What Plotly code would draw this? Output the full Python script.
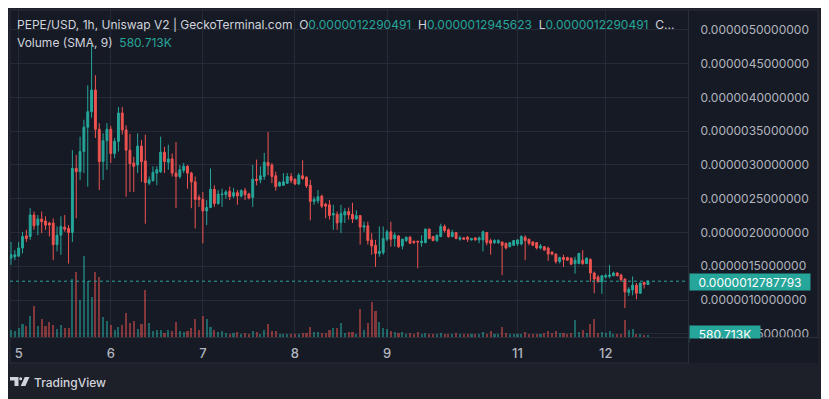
import plotly.graph_objects as go

# ---------------- data (prices in micro-USD, volume in thousands) ----------------
opens = [1.62,1.64,1.65,1.77,1.95,1.94,2.26,2.11,2.20,2.17,2.14,2.14,1.82,1.96,2.08,2.06,2.00,2.95,2.90,3.20,
         3.56,3.79,4.11,3.53,3.05,3.36,3.53,3.17,3.35,3.77,3.52,3.22,3.03,3.00,3.28,3.06,2.73,2.77,2.88,2.90,
         3.19,3.04,3.09,2.88,2.83,2.92,2.98,2.88,2.75,2.52,2.49,2.32,2.37,2.64,2.43,2.56,2.56,2.61,2.54,2.59,
         2.54,2.62,2.57,2.52,2.79,2.78,2.83,3.04,3.00,2.84,2.69,2.70,2.73,2.83,2.79,2.72,2.84,2.82,2.70,2.46,
         2.47,2.54,2.42,2.41,2.26,2.27,2.15,2.26,2.31,2.27,2.20,2.25,2.08,2.10,1.89,1.81,1.69,1.70,1.90,2.01,
         1.91,1.95,1.80,1.88,1.93,1.87,1.87,1.85,1.85,2.05,1.94,1.88,1.94,2.09,2.04,1.94,2.00,1.90,1.92,1.93,
         1.89,1.92,1.89,1.89,2.00,1.88,1.85,1.85,1.86,1.84,1.79,1.81,1.83,1.83,1.93,1.90,1.86,1.85,1.77,1.79,
         1.77,1.71,1.68,1.57,1.63,1.63,1.62,1.54,1.54,1.59,1.54,1.60,1.40,1.34,1.27,1.34,1.35,1.36,1.40,1.37,
         1.31,1.11,1.15,1.22,1.10,1.26,1.2290491]
highs = [1.86,1.74,1.86,2.01,2.04,2.36,2.31,2.26,2.31,2.24,2.16,2.21,2.09,2.24,2.26,2.11,3.22,3.15,3.42,3.67,
         4.18,4.78,4.33,3.62,3.47,3.62,3.58,3.40,3.86,3.86,3.59,3.46,3.12,3.47,3.37,3.45,2.83,2.98,2.98,3.42,
         3.27,3.30,3.17,3.34,3.00,3.03,3.00,2.90,2.83,2.56,2.60,2.48,2.95,2.70,2.63,2.65,2.63,2.68,2.66,2.63,
         2.64,2.66,2.59,3.00,3.08,2.98,3.18,3.49,3.03,2.90,2.76,2.88,2.88,2.88,2.80,2.88,3.07,2.83,2.78,2.53,
         2.63,2.56,2.44,2.48,2.41,2.31,2.41,2.36,2.37,2.44,2.33,2.26,2.16,2.16,1.99,1.89,2.09,2.09,2.04,2.16,
         2.00,1.96,1.91,1.94,1.95,1.88,1.88,1.96,2.06,2.06,1.95,1.97,2.13,2.12,2.06,2.04,2.01,1.95,1.93,1.95,
         1.92,1.93,1.94,2.03,2.01,1.91,1.90,1.90,1.86,1.85,1.86,1.89,1.90,1.96,1.96,1.91,1.87,1.86,1.83,1.80,
         1.79,1.72,1.69,1.64,1.67,1.64,1.63,1.64,1.70,1.74,1.63,1.62,1.42,1.37,1.37,1.39,1.52,1.42,1.41,1.39,
         1.32,1.19,1.35,1.25,1.26,1.27,1.2945623]
lows = [1.52,1.59,1.64,1.69,1.86,1.89,2.04,1.96,1.99,2.04,1.94,1.59,1.72,1.67,2.01,1.54,1.86,2.21,2.78,2.88,
        2.68,3.70,3.40,2.63,2.78,2.93,3.03,3.10,3.20,3.45,2.53,2.60,2.60,2.88,2.75,2.13,2.70,2.75,2.70,2.88,
        2.88,2.93,2.83,2.36,2.80,2.88,2.65,2.36,2.06,2.38,1.84,2.11,2.36,2.38,2.41,2.38,2.50,2.48,2.51,2.41,
        2.52,2.48,2.49,2.38,2.70,2.73,2.78,2.85,2.73,2.62,2.68,2.69,2.72,2.73,2.70,2.70,2.78,2.66,2.18,2.41,
        2.43,2.36,2.21,2.19,2.04,2.04,1.99,2.14,2.19,2.14,2.19,1.82,2.01,1.82,1.67,1.49,1.64,1.67,1.87,1.79,
        1.79,1.77,1.75,1.86,1.83,1.83,1.47,1.79,1.84,1.90,1.87,1.86,1.93,2.00,1.92,1.93,1.90,1.88,1.89,1.86,
        1.88,1.88,1.84,1.72,1.81,1.67,1.83,1.83,1.37,1.75,1.78,1.80,1.80,1.81,1.59,1.81,1.80,1.75,1.75,1.73,
        1.58,1.66,1.54,1.54,1.49,1.58,1.52,1.39,1.53,1.52,1.53,1.27,1.10,1.26,1.09,1.32,1.32,1.35,1.35,1.27,
        0.88,1.06,1.07,1.01,1.09,1.17,1.2290491]
closes = [1.67,1.67,1.77,1.94,1.91,2.26,2.10,2.20,2.16,2.11,2.11,1.82,1.96,2.09,2.05,2.00,2.95,2.90,3.20,3.56,
          3.79,4.11,3.53,3.05,3.36,3.53,3.17,3.35,3.77,3.52,3.22,3.02,2.98,3.28,3.05,2.74,2.78,2.89,2.93,3.19,
          3.05,3.09,2.88,2.83,2.93,2.98,2.88,2.75,2.49,2.49,2.32,2.37,2.64,2.43,2.57,2.57,2.60,2.53,2.59,2.54,
          2.62,2.56,2.51,2.79,2.77,2.84,3.04,2.99,2.83,2.68,2.74,2.75,2.83,2.77,2.72,2.85,2.80,2.69,2.46,2.49,
          2.53,2.39,2.39,2.25,2.28,2.14,2.28,2.31,2.26,2.20,2.25,2.08,2.10,1.88,1.80,1.69,1.72,1.91,2.01,1.90,
          1.96,1.79,1.90,1.93,1.84,1.85,1.86,1.87,2.05,1.91,1.88,1.96,2.09,2.03,1.94,2.00,1.91,1.92,1.90,1.90,
          1.91,1.89,1.92,2.01,1.85,1.84,1.88,1.88,1.81,1.77,1.85,1.88,1.89,1.94,1.88,1.84,1.81,1.77,1.80,1.74,
          1.68,1.68,1.57,1.63,1.60,1.59,1.53,1.59,1.69,1.54,1.62,1.40,1.31,1.27,1.36,1.36,1.37,1.40,1.36,1.30,
          1.12,1.16,1.22,1.10,1.25,1.23,1.2787793]
volumes = [560,480,720,1040,880,1680,2480,880,1440,880,1200,960,640,960,720,720,4640,5200,2960,6480,
           4480,3200,5200,4800,1600,1280,960,560,800,960,1920,1120,1280,640,1040,3760,1120,480,560,560,
           320,560,480,1200,480,400,480,720,1440,560,1680,1440,800,560,400,480,320,240,320,400,
           240,320,240,480,400,240,560,1040,480,480,240,240,240,240,240,240,320,320,800,400,
           400,320,320,560,720,720,1120,320,400,400,240,2240,560,1120,2800,2080,1200,720,640,480,
           400,320,400,240,320,240,400,240,320,240,240,240,320,240,240,240,320,240,240,240,
           240,240,240,400,240,480,240,240,800,320,240,240,240,240,400,240,240,240,240,320,
           480,320,480,320,320,240,320,1360,400,560,320,1040,1440,320,400,320,480,240,240,240,
           1360,560,640,240,240,160,160]
day_tick_pos = [2, 26, 50, 74, 98, 132, 155]
day_tick_labels = ["5", "6", "7", "8", "9", "11", "12"]
price_ticks = [0.5, 1.0, 1.5, 2.0, 2.5, 3.0, 3.5, 4.0, 4.5, 5.0]
volume_sma = "580.713K"
UNIT = 1e-6

# ---------------- styling ----------------
W, H = 829, 399
OFF = 8                                  # page body margin: figure is drawn 8px right/down
REF_PL, REF_PR, REF_PT, REF_PB = 10, 688, 10, 337   # plot area in window pixels
PL, PR, PT, PB = REF_PL - OFF, REF_PR - OFF, REF_PT - OFF, REF_PB - OFF
UP, DN = "#26a69a", "#ef5350"
BG_OUT, BG_CHART = "#1e2029", "#161a25"
GRID, BORDER = "#262a37", "#2a2e39"
TXT, TXT2 = "#d1d4dc", "#b2b5be"
FONT = "Inter, Roboto, sans-serif"

def px(x):  # window x -> paper
    return (x - OFF - PL) / (PR - PL)

def py(y):  # window y -> paper
    return (PB - (y - OFF)) / (PB - PT)

xs = list(range(len(opens)))
o = [v * UNIT for v in opens]
h = [v * UNIT for v in highs]
l = [v * UNIT for v in lows]
c = [v * UNIT for v in closes]
vol_colors = ["rgba(38,166,154,0.55)" if cc >= oo else "rgba(239,83,80,0.5)" for oo, cc in zip(opens, closes)]

fig = go.Figure()
fig.add_trace(go.Bar(x=xs, y=volumes, marker=dict(color=vol_colors, line=dict(width=0)),
                     width=0.55, yaxis="y2", hoverinfo="skip"))
fig.add_trace(go.Candlestick(
    x=xs, open=o, high=h, low=l, close=c,
    increasing=dict(line=dict(color=UP, width=1), fillcolor=UP),
    decreasing=dict(line=dict(color=DN, width=1), fillcolor=DN),
    whiskerwidth=0, hoverinfo="skip"))

span = 176.7
spacing = (PR - PL) / span
x0 = -(11 - REF_PL) / spacing
fig.update_layout(
    width=W, height=H, showlegend=False,
    paper_bgcolor=BG_OUT, plot_bgcolor=BG_CHART,
    margin=dict(l=PL, r=W - PR, t=PT, b=H - PB),
    font=dict(family=FONT, color=TXT2, size=12),
    bargap=0,
    xaxis=dict(range=[x0, x0 + span], rangeslider=dict(visible=False),
               tickmode="array", tickvals=day_tick_pos, ticktext=day_tick_labels,
               showgrid=True, gridcolor=GRID, gridwidth=1, zeroline=False, showline=False,
               ticks="outside", ticklen=4, tickcolor=BG_CHART,
               tickfont=dict(size=13, color=TXT2, family=FONT, weight=500)),
    yaxis=dict(side="right", range=[0.452e-6, 5.296e-6], tickmode="array",
               tickvals=[t * UNIT for t in price_ticks], tickformat=".13f",
               showgrid=True, gridcolor=GRID, zeroline=False, showline=False,
               ticks="outside", ticklen=9, tickcolor=BG_CHART,
               tickfont=dict(size=12, color=TXT2, family=FONT)),
    yaxis2=dict(overlaying="y", range=[0, 26160], visible=False, fixedrange=True),
)

shapes = []
# chart frame (dark panel)
shapes.append(dict(type="rect", xref="paper", yref="paper", layer="below",
                   x0=px(10), x1=px(818), y0=py(363), y1=py(10),
                   fillcolor=BG_CHART, line=dict(color=BORDER, width=1)))
# separators
shapes.append(dict(type="line", xref="paper", yref="paper", layer="above",
                   x0=px(688.5), x1=px(688.5), y0=py(363), y1=py(10), line=dict(color=BORDER, width=1)))
shapes.append(dict(type="line", xref="paper", yref="paper", layer="above",
                   x0=px(10), x1=px(818), y0=py(337.5), y1=py(337.5), line=dict(color=BORDER, width=1)))
# last price dotted line
shapes.append(dict(type="line", xref="paper", yref="y", layer="above",
                   x0=0, x1=1, y0=c[-1], y1=c[-1], line=dict(color=UP, width=1, dash="dot")))
# TradingView logo glyph
def path(pts):
    return "M" + " L".join(f"{px(a)},{py(b)}" for a, b in pts) + " Z"
logo = "#d1d4dc"
shapes.append(dict(type="path", xref="paper", yref="paper", fillcolor=logo, line=dict(width=0),
                   path=path([(10, 377), (18.5, 377), (18.5, 386), (14.5, 386), (14.5, 380.6), (10, 380.6)])))
shapes.append(dict(type="circle", xref="paper", yref="paper", fillcolor=logo, line=dict(width=0),
                   x0=px(19.2), x1=px(22.2), y0=py(380.2), y1=py(377.2)))
shapes.append(dict(type="path", xref="paper", yref="paper", fillcolor=logo, line=dict(width=0),
                   path=path([(24.8, 377), (29.5, 377), (25.4, 386), (20.7, 386)])))
fig.update_layout(shapes=shapes)

def fmt(v):
    return f"{v * UNIT:.13f}"

sp = "&nbsp;"
teal = lambda s: f"<span style='color:{UP}'>{s}</span>"
line1 = ("PEPE/USD, 1h, Uniswap V2 | GeckoTerminal.com" + sp * 2 + "O" + teal(fmt(opens[-1]))
         + sp * 2 + "H" + teal(fmt(highs[-1])) + sp * 2 + "L" + teal(fmt(lows[-1])) + sp * 2 + "C...")
line2 = "Volume (SMA, 9)" + sp * 2 + teal(volume_sma)

ann = [
    dict(text=line1, x=px(15), y=py(25), xref="paper", yref="paper", xanchor="left", yanchor="middle",
         showarrow=False, font=dict(size=12, color=TXT, family=FONT)),
    dict(text=line2, x=px(15), y=py(43), xref="paper", yref="paper", xanchor="left", yanchor="middle",
         showarrow=False, font=dict(size=12, color=TXT, family=FONT)),
    dict(text=fmt(closes[-1]), x=px(689), y=py(282), xref="paper", yref="paper", xanchor="left",
         yanchor="middle", showarrow=False, width=120, height=16, borderpad=0, bgcolor=UP,
         font=dict(size=12, color="#ffffff", family=FONT)),
    dict(text=volume_sma, x=px(689), y=py(334), xref="paper", yref="paper", xanchor="left",
         yanchor="middle", showarrow=False, width=70, height=16, borderpad=0, bgcolor=UP,
         font=dict(size=12, color="#ffffff", family=FONT)),
    dict(text=" ", x=px(689), y=py(338), xref="paper", yref="paper", xanchor="left", yanchor="top",
         showarrow=False, width=128, height=24, borderpad=0, bgcolor=BG_CHART),
    dict(text="TradingView", x=px(32), y=py(382), xref="paper", yref="paper", xanchor="left",
         yanchor="middle", showarrow=False, font=dict(size=12, color=TXT, family=FONT, weight=500)),
]
fig.update_layout(annotations=ann)

fig.write_html("out.html", config={"displayModeBar": False, "staticPlot": True})
